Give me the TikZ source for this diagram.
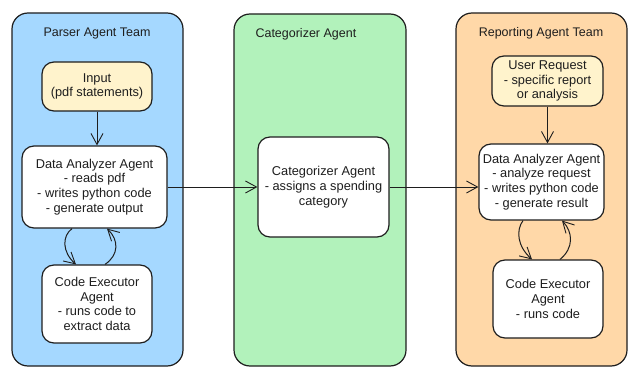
\documentclass[tikz,border=0pt]{standalone}
\usepackage{fontspec}
\setmainfont{Liberation Sans}
\usetikzlibrary{arrows.meta,calc}
\definecolor{pblue}{HTML}{A5D8FF}
\definecolor{pgreen}{HTML}{B2F2BB}
\definecolor{porange}{HTML}{FFD8A8}
\definecolor{pyellow}{HTML}{FFF3CC}
\definecolor{ink}{HTML}{1E1E1E}
\tikzset{
  panel/.style={draw=ink, line width=1.2pt, rounded corners=16pt, inner sep=0pt},
  box/.style={draw=ink, line width=1.2pt, rounded corners=12pt, fill=white, align=center,
    inner sep=1pt, font=\fontsize{12.8}{14.7}\selectfont, text=ink},
  ttl/.style={font=\fontsize{12.5}{14}\selectfont, text=ink},
  arr/.style={draw=ink, line width=1pt, -{Straight Barb[length=11pt,width=12pt,line width=0.9pt]}}
}
\begin{document}
\begin{tikzpicture}[x=1pt,y=-1pt]
\useasboundingbox (0,0) rectangle (640,377);
% panels
\node[panel, fill=pblue, minimum width=171pt, minimum height=353pt] (parser) at (97.5,189.5) {};
\node[panel, fill=pgreen, minimum width=172pt, minimum height=352pt] (catp) at (320,190) {};
\node[panel, fill=porange, minimum width=171pt, minimum height=353pt] (report) at (541.5,189.5) {};
% titles
\node[ttl] (t1) at (97,33) {Parser Agent Team};
\node[ttl, anchor=west] (t2) at (252,34) {Categorizer Agent};
\node[ttl] (t3) at (541,33) {Reporting Agent Team};
% boxes
\node[box, fill=pyellow, minimum width=110pt, minimum height=49pt] (input) at (97,86.5) {Input\\(pdf statements)};
\node[box, minimum width=145pt, minimum height=82pt] (da1) at (94.5,187) {Data Analyzer Agent\\- reads pdf\\- writes python code\\- generate output};
\node[box, minimum width=110pt, minimum height=78pt] (ce1) at (97,304) {Code Executor\\Agent\\- runs code to\\extract data};
\node[box, minimum width=131pt, minimum height=100pt] (cat) at (323.5,187) {Categorizer Agent\\- assigns a spending\\category};
\node[box, fill=pyellow, minimum width=111pt, minimum height=50pt] (ur) at (547.5,81) {User Request\\- specific report\\or analysis};
\node[box, minimum width=125pt, minimum height=76pt] (da2) at (541.5,182) {Data Analyzer Agent\\- analyze request\\- writes python code\\- generate result};
\node[box, minimum width=110pt, minimum height=78pt] (ce2) at (548,299) {Code Executor\\Agent\\- runs code};
% connectors
\draw[arr] (input.south) -- (input.south |- da1.north);
\draw[arr] (ur.south) -- (ur.south |- da2.north);
\draw[arr] (da1.east) -- (cat.west);
\draw[arr] (cat.east) -- (cat.east -| da2.west);
% loops left
\draw[arr] ($(da1.south)+(-22.5,0)$) .. controls (62,236) and (62,252) .. ($(ce1.north)+(-21,0)$);
\draw[arr] ($(ce1.north)+(8,0)$) .. controls (119,255) and (119,240) .. ($(da1.south)+(12.5,0)$);
% loops right
\draw[arr] ($(da2.south)+(-18.5,0)$) .. controls (516,230) and (517,246) .. ($(ce2.north)+(-16,0)$);
\draw[arr] ($(ce2.north)+(12,0)$) .. controls (574,248) and (573,232) .. ($(da2.south)+(20.5,0)$);
\end{tikzpicture}
\end{document}
